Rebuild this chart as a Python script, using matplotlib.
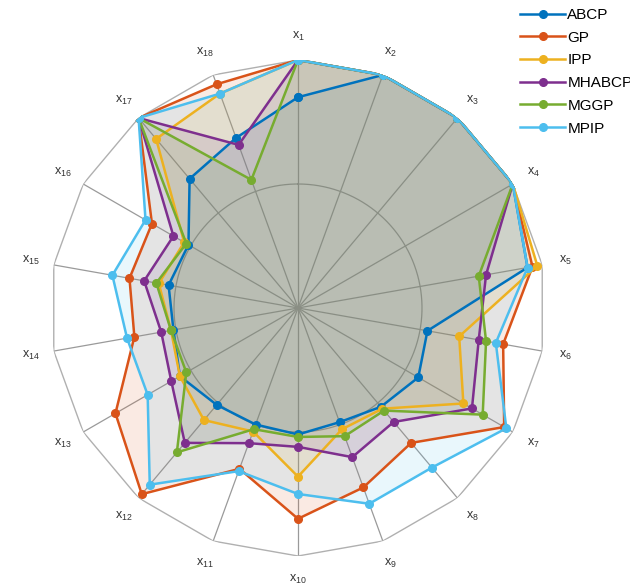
import numpy as np
import matplotlib
matplotlib.use("Agg")
import matplotlib.pyplot as plt

plt.rcParams["font.family"] = ["Liberation Sans", "DejaVu Sans"]
plt.rcParams["mathtext.fontset"] = "custom"
plt.rcParams["mathtext.rm"] = "Liberation Sans"
plt.rcParams["mathtext.it"] = "Liberation Sans"

# 数据：18 个指标，6 种方法（已归一化）
labels = ["x$_{%d}$" % i for i in range(1, 19)]
series_names = ["ABCP", "GP", "IPP", "MHABCP", "MGGP", "MPIP"]

abcp = [0.85, 1.0, 1.0, 1.0, 0.94, 0.53, 0.56, 0.52, 0.49, 0.51, 0.50, 0.51, 0.55, 0.51, 0.53, 0.51, 0.68, 0.73]
gp = [1.0, 1.0, 1.0, 1.0, 0.96, 0.84, 0.96, 0.71, 0.77, 0.85, 0.69, 0.98, 0.85, 0.67, 0.69, 0.68, 1.0, 0.96]
ipp = [1.0, 1.0, 1.0, 1.0, 0.98, 0.66, 0.77, 0.53, 0.52, 0.68, 0.53, 0.59, 0.55, 0.52, 0.57, 0.53, 0.89, 0.92]
mhabcp = [1.0, 1.0, 1.0, 1.0, 0.77, 0.74, 0.81, 0.60, 0.64, 0.56, 0.58, 0.71, 0.59, 0.56, 0.63, 0.58, 1.0, 0.70]
mggp = [1.0, 1.0, 1.0, 1.0, 0.74, 0.77, 0.86, 0.54, 0.55, 0.52, 0.52, 0.76, 0.52, 0.52, 0.58, 0.52, 1.0, 0.55]
mpip = [1.0, 1.0, 1.0, 1.0, 0.94, 0.81, 0.97, 0.84, 0.84, 0.75, 0.70, 0.93, 0.70, 0.70, 0.76, 0.71, 1.0, 0.92]

all_series = [abcp, gp, ipp, mhabcp, mggp, mpip]
colors = ["#0072BD", "#D95319", "#EDB120", "#7E2F8E", "#77AC30", "#4DBEEE"]

n = len(labels)
angles = np.linspace(0, 2 * np.pi, n, endpoint=False)
angles_closed = np.append(angles, angles[0])

W, H = 630, 586
cx, cy, R = 298, 308, 248
fig = plt.figure(figsize=(W / 100, H / 100), dpi=100)
ax = fig.add_axes([(cx - R) / W, (H - cy - R) / H, 2 * R / W, 2 * R / H], polar=True)
ax.set_theta_offset(np.pi / 2)
ax.set_theta_direction(-1)
ax.set_ylim(0, 1)
ax.grid(False)
ax.spines["polar"].set_visible(False)
ax.set_xticks([])
ax.set_yticks([])
ax.patch.set_alpha(0)

grid_c = "#9a9a9a"
# 辐射线 + 外框多边形 + 内圈
for a in angles:
    ax.plot([a, a], [0, 1], color=grid_c, lw=0.9, zorder=1)
ax.plot(angles_closed, np.ones(n + 1), color="#b0b0b0", lw=1.0, zorder=1)
circ = np.linspace(0, 2 * np.pi, 300)
ax.plot(circ, np.full_like(circ, 0.5), color=grid_c, lw=0.9, zorder=1)

for name, vals, c in zip(series_names, all_series, colors):
    v = np.append(vals, vals[0])
    ax.fill(angles_closed, v, color=c, alpha=0.12, lw=0, zorder=2)
    ax.plot(angles_closed, v, color=c, lw=1.8, marker="o", markersize=5.5,
            label=name, zorder=3)

for a, lab in zip(angles, labels):
    ax.text(a, 1.095, lab, ha="center", va="center", fontsize=9, color="#333333")

fig.legend(loc="upper left", bbox_to_anchor=(520 / W, 1 - 8 / H), frameon=False,
           fontsize=11, handlelength=2.95, handletextpad=0.15, labelspacing=0.57,
           borderpad=0, borderaxespad=0)

fig.savefig("out.png", dpi=100)
